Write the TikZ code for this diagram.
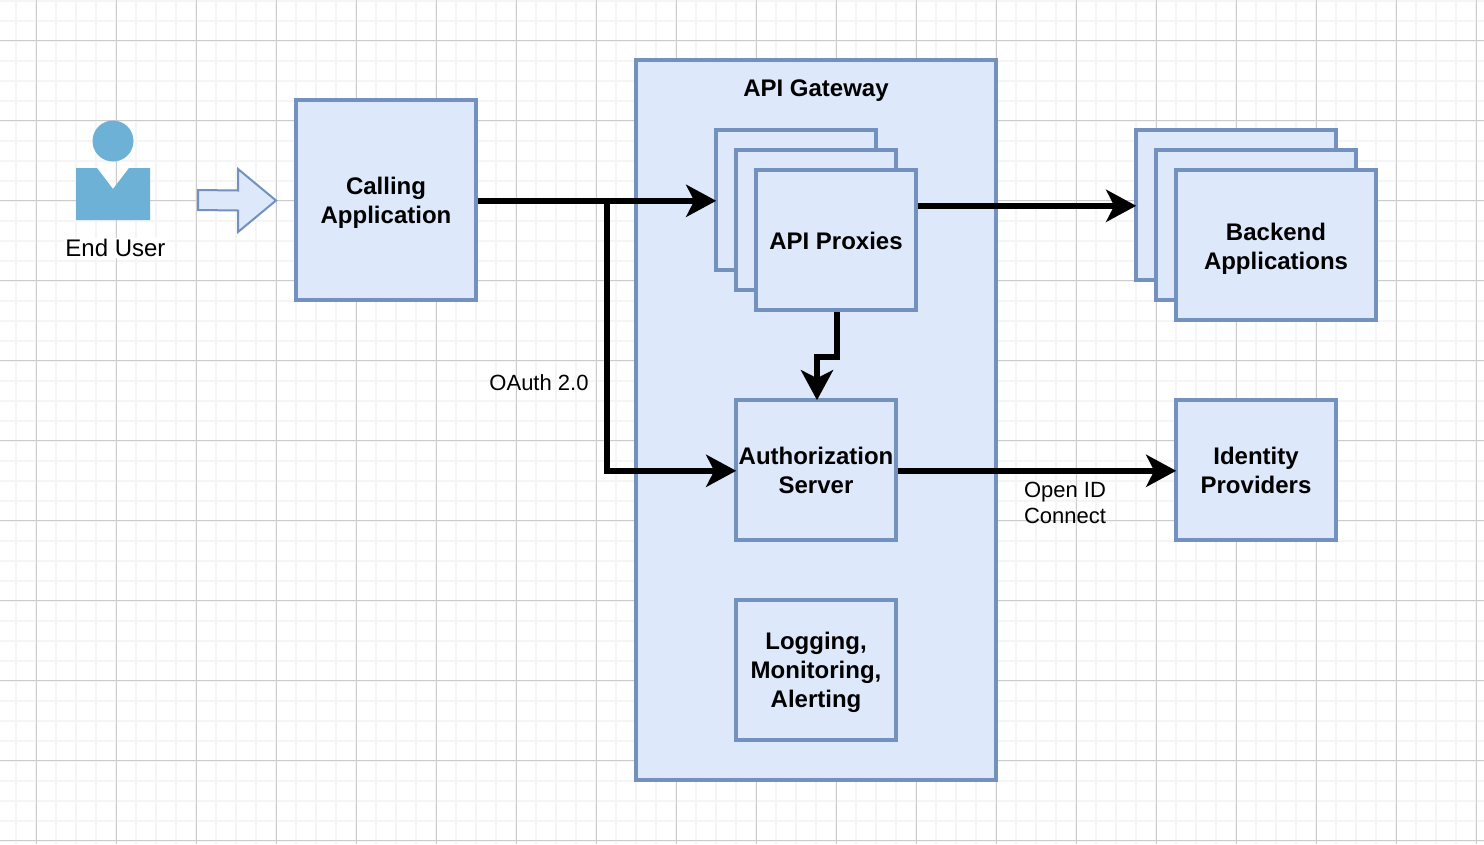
\documentclass[tikz,border=0pt]{standalone}
\usepackage{fontspec}
\setmainfont{Liberation Sans}
\usetikzlibrary{arrows.meta}
\definecolor{boxfill}{HTML}{DDE9FB}
\definecolor{boxline}{HTML}{7391BE}
\definecolor{usercol}{HTML}{6DB1D6}
\definecolor{gridmajor}{HTML}{CCCCCC}
\definecolor{gridminor}{HTML}{F5F5F5}
\newcommand{\dropline}[1]{\rule{0pt}{#1}}
\tikzset{
  boxstyle/.style={draw=boxline,fill=boxfill,line width=3.6pt,minimum width=#1,inner sep=0pt,align=center,font=\fontsize{24}{29}\selectfont\bfseries},
  plainlabel/.style={align=center,inner sep=1pt,font=\fontsize{22}{26}\selectfont},
  flow/.style={line width=6pt,draw=black,shorten >=-2pt,-{Stealth[length=30pt,width=32pt,inset=8pt]}},
}
\begin{document}
\begin{tikzpicture}[x=1pt,y=-1pt]
\useasboundingbox (0,0) rectangle (1484,844);
\fill[white] (0,0) rectangle (1484,844);
% grid
\foreach \gx in {16.2,36.2,...,1477} \draw[gridminor,line width=2pt] (\gx,0) -- (\gx,844);
\foreach \gy in {0.5,20.5,...,841} \draw[gridminor,line width=2pt] (0,\gy) -- (1484,\gy);
\foreach \gx in {36.2,116.2,...,1477} \draw[gridmajor,line width=1pt] (\gx,0) -- (\gx,844);
\foreach \gy in {40.5,120.5,...,841} \draw[gridmajor,line width=1pt] (0,\gy) -- (1484,\gy);
% user
\fill[usercol] (113,141) circle[radius=20.5];
\fill[usercol] (76,168) -- (97,168) -- (113,189) -- (129,168) -- (150,168) -- (150,220) -- (76,220) -- cycle;
\node[plainlabel,font=\fontsize{24}{26}\selectfont,fill=white] (enduser) at (115.5,248) {End User};
% block arrow
\draw[boxline,fill=boxfill,line width=2pt,line join=miter] (198,190) -- (238,190.5) -- (238,169) -- (276,200.5) -- (238,232) -- (238,210.5) -- (198,210) -- cycle;
% boxes
\node[boxstyle=180pt,minimum height=200pt] (calling) at (386,200) {\dropline{22.4pt}Calling\\Application};
\node[boxstyle=360pt,minimum height=720pt] (gateway) at (816,420) {};
\node[font=\fontsize{24}{29}\selectfont\bfseries,inner sep=0pt] (gwlabel) at (816,91) {API Gateway};
\node[boxstyle=160pt,minimum height=140pt] (proxyA) at (796,200) {};
\node[boxstyle=160pt,minimum height=140pt] (proxyB) at (816,220) {};
\node[boxstyle=160pt,minimum height=140pt] (proxyC) at (836,240) {\dropline{19.4pt}API Proxies};
\node[boxstyle=200pt,minimum height=150pt] (backA) at (1236,205) {};
\node[boxstyle=200pt,minimum height=150pt] (backB) at (1256,225) {};
\node[boxstyle=200pt,minimum height=150pt] (backC) at (1276,245) {\dropline{24.4pt}Backend\\Applications};
\node[boxstyle=160pt,minimum height=140pt] (auth) at (816,470) {\dropline{18.4pt}Authorization\\Server};
\node[boxstyle=160pt,minimum height=140pt] (idp) at (1256,470) {\dropline{18.4pt}Identity\\Providers};
\node[boxstyle=160pt,minimum height=140pt] (logging) at (816,670) {\dropline{22.4pt}Logging,\\Monitoring,\\Alerting};
% junction coordinates of the elbow
\coordinate (elbowtop) at (607,200.8);
\coordinate (elbowbottom) at (607,470.8);
% connectors
\draw[flow] ([yshift=-0.8pt]calling.east) -- ([yshift=-0.8pt]proxyA.west);
\draw[flow] ([yshift=-0.8pt]calling.east) -- (elbowtop) -- (elbowbottom) -- ([yshift=-0.8pt]auth.west);
\draw[flow] ([yshift=-0.8pt]proxyC.east |- backA.west) -- ([yshift=-0.8pt]backA.west);
\draw[flow] ([xshift=1pt]proxyC.south) -- ++(0,45.5) -| ([xshift=1pt]auth.north);
\draw[flow] ([yshift=-0.8pt]auth.east) -- ([yshift=-0.8pt]idp.west);
% labels
\node[plainlabel] (oauth) at (539,382.5) {OAuth 2.0};
\node[plainlabel] (oidc) at (1065,502.5) {Open ID\\Connect};
\end{tikzpicture}
\end{document}
